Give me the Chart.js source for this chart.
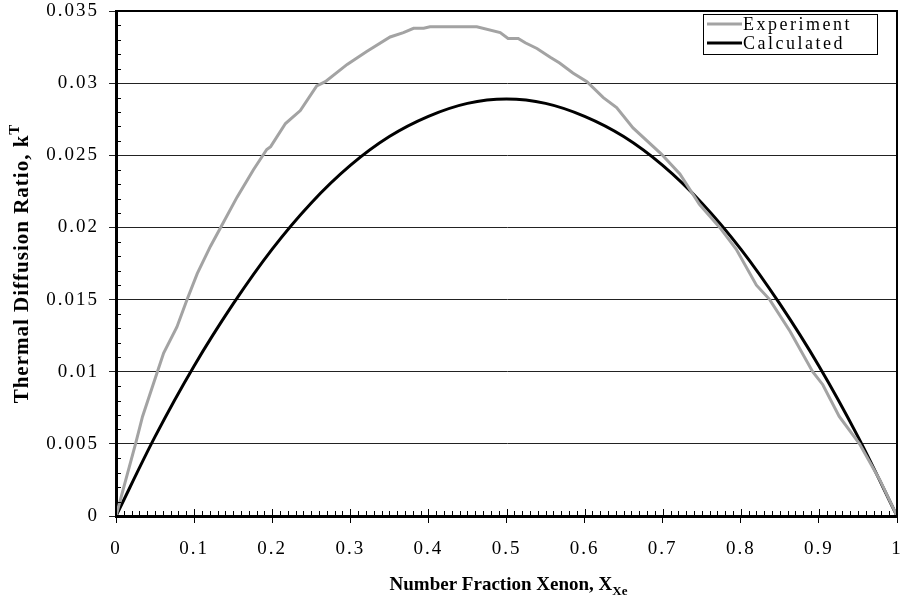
<!DOCTYPE html>
<html>
<head>
<meta charset="utf-8">
<script src="https://cdn.jsdelivr.net/npm/chart.js@4.4.1/dist/chart.umd.min.js"></script>
<style>
  html, body { margin: 0; background: #fff; }
  #wrap { width: 900px; height: 600px; }
</style>
</head>
<body>
<div id="wrap"><canvas id="kTChart"></canvas></div>
<script>
// Measured thermal diffusion ratio vs. xenon fraction
const expX = [0, 0.010, 0.025, 0.034, 0.053, 0.061, 0.078, 0.091, 0.104, 0.121,
              0.134, 0.155, 0.176, 0.193, 0.198, 0.217, 0.236, 0.257, 0.268, 0.296,
              0.321, 0.351, 0.368, 0.381, 0.394, 0.402, 0.453, 0.462, 0.492, 0.502,
              0.515, 0.524, 0.539, 0.556, 0.568, 0.585, 0.603, 0.624, 0.641, 0.662,
              0.698, 0.722, 0.747, 0.773, 0.794, 0.820, 0.837, 0.863, 0.892, 0.905,
              0.926, 0.952, 0.978, 1.000];
const expY = [0, 0.0020, 0.0050, 0.0069, 0.0100, 0.0113, 0.0131, 0.0150, 0.0168, 0.0187,
              0.0200, 0.0221, 0.0240, 0.0254, 0.0256, 0.0272, 0.0281, 0.0298, 0.0301, 0.0313,
              0.0322, 0.0332, 0.0335, 0.0338, 0.0338, 0.0339, 0.0339, 0.0339, 0.0335, 0.0331,
              0.0331, 0.0328, 0.0324, 0.0318, 0.0314, 0.0307, 0.0301, 0.0290, 0.0283, 0.0269,
              0.0251, 0.0237, 0.0216, 0.0200, 0.0185, 0.0160, 0.0150, 0.0128, 0.0100, 0.0091,
              0.0069, 0.0050, 0.0025, 0];

// Calculated curve
const calcX = [0, 0.05, 0.10, 0.15, 0.20, 0.25, 0.30, 0.35, 0.40, 0.45, 0.50,
               0.55, 0.60, 0.65, 0.70, 0.75, 0.80, 0.85, 0.90, 0.95, 1.00];
const calcY = [0, 0.0055, 0.0104, 0.0147, 0.0185, 0.0217, 0.0243, 0.0263, 0.0277, 0.0286, 0.0289,
               0.0286, 0.0277, 0.0263, 0.0243, 0.0217, 0.0185, 0.0147, 0.0104, 0.0055, 0];

const xTicks = [0, 0.1, 0.2, 0.3, 0.4, 0.5, 0.6, 0.7, 0.8, 0.9, 1];
const xTickLabels = ['0', '0.1', '0.2', '0.3', '0.4', '0.5', '0.6', '0.7', '0.8', '0.9', '1'];
const yTicks = [0, 0.005, 0.01, 0.015, 0.02, 0.025, 0.03, 0.035];
const yTickLabels = ['0', '0.005', '0.01', '0.015', '0.02', '0.025', '0.03', '0.035'];

const seriesNames = ['Experiment', 'Calculated'];
const seriesColors = ['#a3a3a3', '#000000'];

const serif = '"Liberation Serif", "Times New Roman", serif';

function pairs(xs, ys) {
    return xs.map(function (x, i) { return { x: x, y: ys[i] }; });
}

// text with a smaller lowered/raised tail (subscript / superscript)
function drawScripted(ctx, main, tail, size, shift, cx, cy) {
    const small = Math.round(size * 0.7);
    ctx.font = 'bold ' + size + 'px ' + serif;
    const w1 = ctx.measureText(main).width;
    ctx.font = 'bold ' + small + 'px ' + serif;
    const w2 = ctx.measureText(tail).width;
    const start = cx - (w1 + w2) / 2;
    ctx.font = 'bold ' + size + 'px ' + serif;
    ctx.fillText(main, start, cy);
    ctx.font = 'bold ' + small + 'px ' + serif;
    ctx.fillText(tail, start + w1, cy + shift);
}

const extras = {
    id: 'extras',
    beforeDraw(chart) {
        chart.ctx.letterSpacing = '2px';
    },
    afterDraw(chart) {
        const ctx = chart.ctx;
        const a = chart.chartArea;
        const xs = chart.scales.x;
        const ys = chart.scales.y;
        ctx.save();

        // minor ticks inside the plot, plus the inner half of the x major ticks
        ctx.strokeStyle = '#000';
        ctx.lineWidth = 1;
        ctx.beginPath();
        for (let i = 1; i < 100; i++) {
            const px = Math.round(xs.getPixelForValue(i / 100)) + 0.5;
            const len = (i % 10 === 0) ? 7 : 5;
            ctx.moveTo(px, a.bottom);
            ctx.lineTo(px, a.bottom - len);
        }
        for (let i = 1; i < 35; i++) {
            if (i % 5 === 0) continue;
            const py = Math.round(ys.getPixelForValue(i / 1000)) + 0.5;
            ctx.moveTo(a.left, py);
            ctx.lineTo(a.left + 5, py);
        }
        ctx.stroke();

        // plot frame
        ctx.lineWidth = 2;
        ctx.strokeRect(a.left, a.top, a.right - a.left, a.bottom - a.top);

        // legend box
        const lx = 703, ly = 14, lw = 174, lh = 40;
        ctx.fillStyle = '#fff';
        ctx.fillRect(lx, ly, lw, lh);
        ctx.lineWidth = 1;
        ctx.strokeStyle = '#000';
        ctx.strokeRect(lx + 0.5, ly + 0.5, lw, lh);
        ctx.letterSpacing = '2.5px';
        ctx.font = '18px ' + serif;
        ctx.textBaseline = 'middle';
        ctx.textAlign = 'left';
        chart.data.datasets.forEach(function (ds, i) {
            const y = ly + 10 + i * 19;
            ctx.strokeStyle = ds.borderColor;
            ctx.lineWidth = 3;
            ctx.beginPath();
            ctx.moveTo(lx + 4, y);
            ctx.lineTo(lx + 39, y);
            ctx.stroke();
            ctx.fillStyle = '#000';
            ctx.fillText(ds.label, lx + 40, y + 1);
        });

        // axis titles
        ctx.fillStyle = '#000';
        ctx.textBaseline = 'alphabetic';
        ctx.letterSpacing = '0px';
        drawScripted(ctx, 'Number Fraction Xenon, X', 'Xe', 19, 5, (a.left + a.right) / 2 + 2, 590);

        ctx.letterSpacing = '1px';
        ctx.translate(28, (a.top + a.bottom) / 2);
        ctx.rotate(-Math.PI / 2);
        drawScripted(ctx, 'Thermal Diffusion Ratio, k', 'T', 21, -9, 0, 0);

        ctx.restore();
    }
};

new Chart(document.getElementById('kTChart'), {
    type: 'scatter',
    data: {
        datasets: [
            {
                label: seriesNames[0],
                data: pairs(expX, expY),
                showLine: true,
                borderColor: seriesColors[0],
                borderWidth: 3,
                pointRadius: 0,
                tension: 0
            },
            {
                label: seriesNames[1],
                data: pairs(calcX, calcY),
                showLine: true,
                borderColor: seriesColors[1],
                borderWidth: 3,
                pointRadius: 0,
                cubicInterpolationMode: 'monotone'
            }
        ]
    },
    options: {
        responsive: true,
        maintainAspectRatio: false,
        animation: false,
        layout: { padding: { left: 0, right: 3, top: 11, bottom: 0 } },
        plugins: {
            legend: { display: false },
            tooltip: { enabled: false }
        },
        scales: {
            x: {
                type: 'linear',
                min: 0,
                max: 1,
                afterBuildTicks: function (scale) {
                    scale.ticks = xTicks.map(function (v) { return { value: v }; });
                },
                afterFit: function (scale) {
                    scale.height = 84;
                    scale.paddingLeft = 0;
                    scale.paddingRight = 0;
                },
                ticks: {
                    color: '#000',
                    font: { family: serif, size: 19 },
                    padding: 15,
                    maxRotation: 0,
                    callback: function (v) { return xTickLabels[xTicks.indexOf(v)]; }
                },
                grid: {
                    drawOnChartArea: false,
                    drawTicks: true,
                    tickLength: 7,
                    color: '#000'
                },
                border: { display: true, color: '#000', width: 3 }
            },
            y: {
                type: 'linear',
                min: 0,
                max: 0.035,
                afterBuildTicks: function (scale) {
                    scale.ticks = yTicks.map(function (v) { return { value: v }; });
                },
                afterFit: function (scale) {
                    scale.width = 116;
                    scale.paddingTop = 0;
                    scale.paddingBottom = 0;
                },
                ticks: {
                    color: '#000',
                    font: { family: serif, size: 19 },
                    padding: 10,
                    callback: function (v) { return yTickLabels[yTicks.indexOf(v)]; }
                },
                grid: {
                    color: '#222',
                    lineWidth: 1,
                    drawTicks: true,
                    tickLength: 7
                },
                border: { display: true, color: '#000', width: 3 }
            }
        }
    },
    plugins: [extras]
});
</script>
</body>
</html>
